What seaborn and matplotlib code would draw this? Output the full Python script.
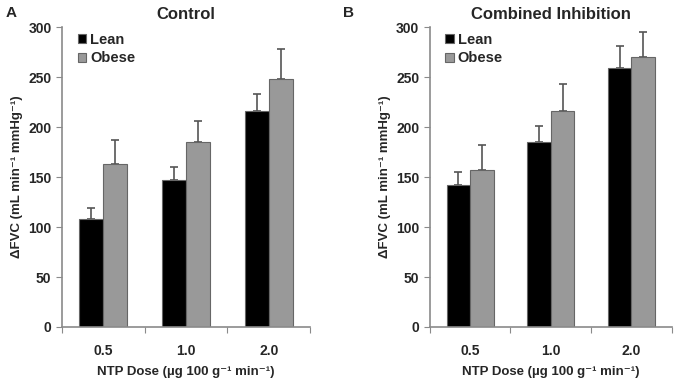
import pandas as pd
import seaborn as sns
import matplotlib.pyplot as plt

# Datos
doses = ['0.5', '1.0', '2.0']
groups = ['Lean', 'Obese']

control_lean = [108, 147, 216]
control_obese = [163, 185, 248]
control_lean_err = [11, 13, 17]
control_obese_err = [24, 21, 30]

inhib_lean = [142, 185, 259]
inhib_obese = [157, 216, 270]
inhib_lean_err = [13, 16, 22]
inhib_obese_err = [25, 27, 25]

panels = [
    ('A', 'Control', control_lean, control_obese, control_lean_err, control_obese_err),
    ('B', 'Combined Inhibition', inhib_lean, inhib_obese, inhib_lean_err, inhib_obese_err),
]

sns.set_style('white')
plt.rcParams['font.family'] = ['Liberation Sans', 'DejaVu Sans']
plt.rcParams['font.weight'] = 'bold'

fig = plt.figure(figsize=(6.8, 3.82), dpi=100)
rects = [[0.091, 0.144, 0.365, 0.785], [0.632, 0.144, 0.356, 0.785]]
palette = {'Lean': '#000000', 'Obese': '#999999'}
axis_col = '#8a8a8a'

for (letter, title, lean, obese, lean_err, obese_err), rect in zip(panels, rects):
    ax = fig.add_axes(rect)
    df = pd.DataFrame({
        'dose': doses * 2,
        'group': ['Lean'] * 3 + ['Obese'] * 3,
        'value': lean + obese,
    })
    sns.barplot(data=df, x='dose', y='value', hue='group', order=doses,
                hue_order=groups, palette=palette, errorbar=None,
                width=0.58, edgecolor='#666666', linewidth=0.8, ax=ax)

    # Barras de error solo hacia arriba (detras de las barras)
    for cont, errs in zip(ax.containers, [lean_err, obese_err]):
        xs = [p.get_x() + p.get_width() / 2 for p in cont.patches]
        hs = [p.get_height() for p in cont.patches]
        ax.errorbar(xs, hs, yerr=[[0] * len(errs), errs], fmt='none',
                    ecolor='#555555', elinewidth=1.2, capsize=3, capthick=1.2,
                    zorder=0.5)

    ax.set_xlim(-0.5, 2.5)
    ax.set_ylim(0, 300)
    ax.set_yticks(range(0, 301, 50))
    ax.set_xticks([-0.5, 0.5, 1.5, 2.5])
    ax.set_xticklabels([])
    ax.set_xticks([0, 1, 2], minor=True)
    ax.set_xticklabels(doses, minor=True)
    ax.tick_params(axis='x', which='major', length=4, color=axis_col, direction='out', bottom=True)
    ax.tick_params(axis='x', which='minor', length=0, pad=12, labelsize=10)
    ax.tick_params(axis='y', length=4, color=axis_col, direction='out', left=True, labelsize=10)
    for s in ['top', 'right']:
        ax.spines[s].set_visible(False)
    for s in ['left', 'bottom']:
        ax.spines[s].set_color(axis_col)
        ax.spines[s].set_linewidth(1.2)

    ax.set_title(title, fontsize=12, fontweight='bold', pad=6)
    ax.set_xlabel('NTP Dose (µg 100 g⁻¹ min⁻¹)', fontsize=9.5, fontweight='bold',
                  labelpad=6)
    ax.set_ylabel('ΔFVC (mL min⁻¹ mmHg⁻¹)', fontsize=9.5, fontweight='bold')
    ax.legend(loc='upper left', frameon=False, fontsize=10.5, handlelength=0.6,
              handleheight=0.6, handletextpad=0.25, labelspacing=0.3,
              borderaxespad=0.0, bbox_to_anchor=(0.04, 1.0))
    fig.text(rect[0] - 0.083 if letter == 'A' else 0.505, 0.955, letter,
             fontsize=11, fontweight='bold')

plt.savefig('out.png', dpi=100)
